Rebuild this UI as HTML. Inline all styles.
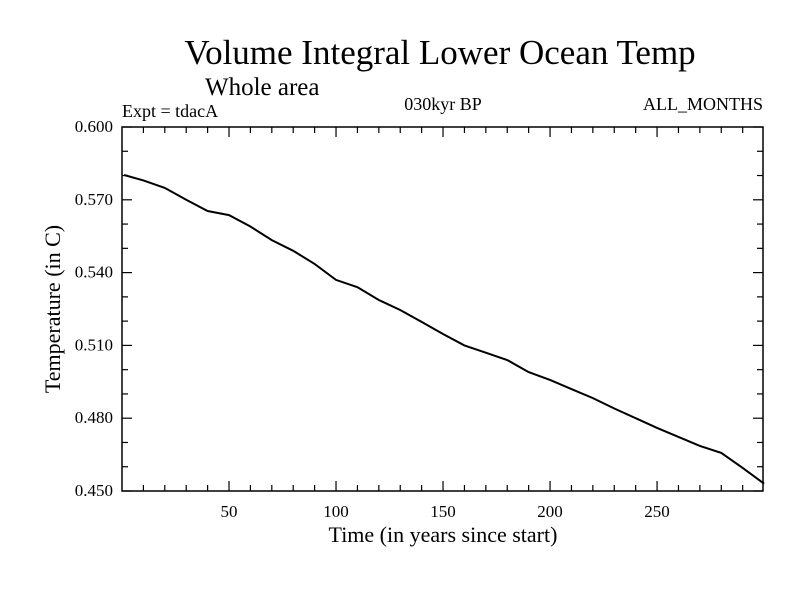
<!DOCTYPE html>
<html><head><meta charset="utf-8">
<style>
body{margin:0;background:#fff;}
svg{display:block;font-family:"Liberation Serif",serif;}
</style></head>
<body>
<svg id="chart" width="800" height="600" viewBox="0 0 800 600">
<rect width="800" height="600" fill="#fff"/>
<text x="440" y="64" font-size="35" text-anchor="middle">Volume Integral Lower Ocean Temp</text>
<text x="205" y="95" font-size="25">Whole area</text>
<text x="122" y="117" font-size="18">Expt = tdacA</text>
<text x="443" y="110" font-size="18" text-anchor="middle">030kyr BP</text>
<text x="763" y="110" font-size="18" text-anchor="end">ALL_MONTHS</text>
<text x="443" y="542" font-size="22" text-anchor="middle">Time (in years since start)</text>
<text transform="translate(60,309) rotate(-90)" font-size="22" text-anchor="middle">Temperature (in C)</text>
<g id="axes"></g>
<rect x="122" y="127" width="641" height="364" fill="none" stroke="#000" stroke-width="1.5"/>
<polyline id="series" fill="none" stroke="#000" stroke-width="2"/>
</svg>
<script>
const years = [1,10,20,30,40,50,60,70,80,90,100,110,120,130,140,150,160,170,180,190,200,210,220,230,240,250,260,270,280,290,300];
const temps = [0.5802,0.5780,0.5749,0.5700,0.5654,0.5637,0.5590,0.5534,0.5490,0.5436,0.5370,0.5340,0.5287,0.5246,0.5197,0.5147,0.5100,0.5070,0.5040,0.4990,0.4958,0.4920,0.4883,0.4840,0.4800,0.4760,0.4723,0.4686,0.4657,0.4595,0.4530];
const xMajor = [50,100,150,200,250];
const yMajor = [0.450,0.480,0.510,0.540,0.570,0.600];
const yLabels = ["0.450","0.480","0.510","0.540","0.570","0.600"];
const L=122,R=763,T=127,B=491,X0=0,X1=299.5,Y0=0.45,Y1=0.6;
const sx=v=>L+(v-X0)/(X1-X0)*(R-L);
const sy=v=>B-(v-Y0)/(Y1-Y0)*(B-T);
const ns="http://www.w3.org/2000/svg";
const g=document.getElementById('axes');
function line(x1,y1,x2,y2,name){const l=document.createElementNS(ns,'line');l.setAttribute('x1',x1);l.setAttribute('y1',y1);l.setAttribute('x2',x2);l.setAttribute('y2',y2);l.setAttribute('stroke','#000');l.setAttribute('stroke-width','1.2');


g.appendChild(l);}
function text(x,y,s,anchor,name){const t=document.createElementNS(ns,'text');t.setAttribute('x',x);t.setAttribute('y',y);t.setAttribute('font-size','17');t.setAttribute('text-anchor',anchor);t.textContent=s;


g.appendChild(t);}
for(let v=10;v<300;v+=10){const x=sx(v);const len=(v%50===0)?10:6;line(x,B,x,B-len,'x-tick');line(x,T,x,T+len,'x-tick-top');}
xMajor.forEach(v=>text(sx(v),517,String(v),'middle','x-tick-label'));
for(let i=0;i<=15;i++){const v=0.45+i*0.01;const y=sy(v);const len=(i%3===0)?10:6;line(L,y,L+len,y,'y-tick');line(R,y,R-len,y,'y-tick-right');}
yMajor.forEach((v,i)=>text(113,sy(v)+5,yLabels[i],'end','y-tick-label'));
document.getElementById('series').setAttribute('points',years.map((y,i)=>sx(y).toFixed(1)+','+sy(temps[i]).toFixed(1)).join(' '));
</script>
</body></html>
